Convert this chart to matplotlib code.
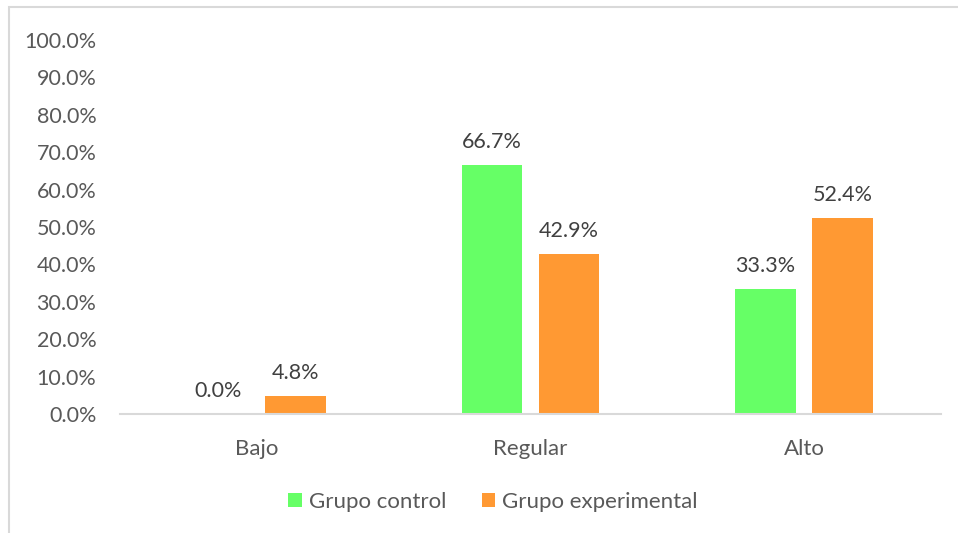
import matplotlib.pyplot as plt
from matplotlib.patches import Rectangle
import numpy as np

categorias = ["Bajo", "Regular", "Alto"]
grupo_control = [0.0, 66.7, 33.3]
grupo_experimental = [4.8, 42.9, 52.4]
yticks = [0, 10, 20, 30, 40, 50, 60, 70, 80, 90, 100]

plt.rcParams['font.family'] = ['Lato', 'DejaVu Sans']
txt = '#595959'

W, H = 958, 533
fig = plt.figure(figsize=(W / 100, H / 100), dpi=100)
# axes box in pixels: x 120..941, y 40..414 (0..100%)
ax = fig.add_axes([120 / W, 1 - 414 / H, 821 / W, 374 / H])

x = np.arange(len(categorias))
off, w = 0.141, 0.222
b1 = ax.bar(x - off, grupo_control, w, color='#66FF66', label='Grupo control')
b2 = ax.bar(x + off, grupo_experimental, w, color='#FF9933', label='Grupo experimental')

for bars, vals in [(b1, grupo_control), (b2, grupo_experimental)]:
    for r, v in zip(bars, vals):
        ax.annotate(f"{v:.1f}%", (r.get_x() + r.get_width() / 2, v),
                    xytext=(0, 13), textcoords='offset pixels',
                    ha='center', va='bottom', fontsize=15.5, color='#404040')

ax.set_xlim(-0.5, 2.5)
ax.set_ylim(0, 100)
ax.set_yticks(yticks)
ax.set_yticklabels([f"{t:.1f}%" for t in yticks])
ax.set_xticks(x)
ax.set_xticklabels(categorias)
ax.tick_params(axis='y', length=0, pad=17, labelsize=15.5, labelcolor=txt)
ax.tick_params(axis='x', length=0, pad=18, labelsize=16, labelcolor=txt)
for s in ['top', 'right', 'left']:
    ax.spines[s].set_visible(False)
ax.spines['bottom'].set_color('#D9D9D9')
ax.spines['bottom'].set_linewidth(1.5)

fig.legend(handles=[b1, b2], loc='center', bbox_to_anchor=(493 / W, 1 - 502 / H),
           ncol=2, frameon=False, fontsize=16, labelcolor=txt,
           handlelength=0.62, handleheight=0.62, handletextpad=0.3, columnspacing=1.6)

# outer chart border (only top and left visible)
fig.patches.append(Rectangle((9 / W, -0.1), 1.2, 1 - 7 / H + 0.1, transform=fig.transFigure,
                             fill=False, edgecolor='#D9D9D9', linewidth=1.5))

fig.savefig('out.png', dpi=100)
